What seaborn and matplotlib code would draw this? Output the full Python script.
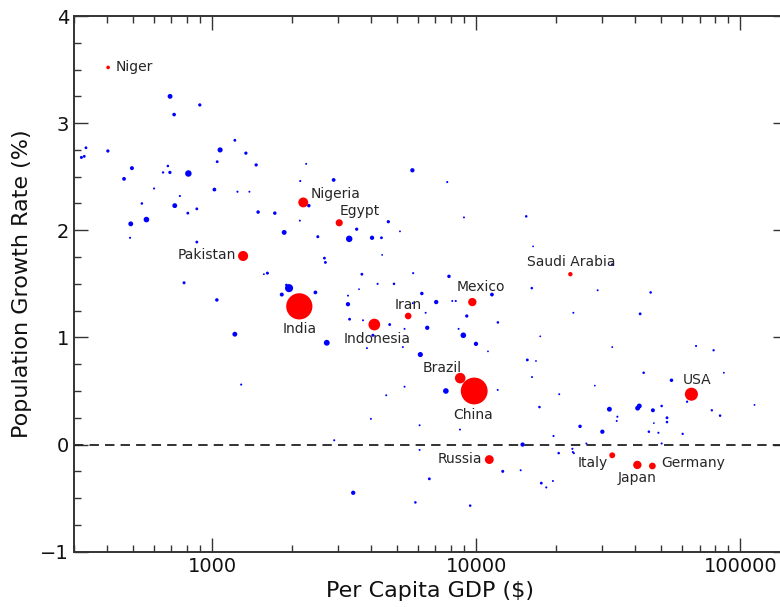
import numpy as np
import pandas as pd
import matplotlib
matplotlib.use("Agg")
import matplotlib.pyplot as plt
import seaborn as sns
from matplotlib.ticker import FixedLocator, FuncFormatter, LogLocator, MultipleLocator, NullFormatter

# ---- labelled countries ----
names = ["Niger", "Nigeria", "Egypt", "Pakistan", "India", "Indonesia", "Iran", "Mexico",
         "Saudi Arabia", "Brazil", "China", "USA", "Russia", "Italy", "Japan", "Germany"]
named_gdp = [404, 2213, 3027, 1310, 2138, 4111, 5522, 9660,
             22700, 8690, 9820, 65200, 11200, 32700, 40700, 46400]
named_growth = [3.52, 2.26, 2.07, 1.76, 1.29, 1.12, 1.20, 1.33,
                1.59, 0.62, 0.50, 0.47, -0.14, -0.10, -0.19, -0.20]
named_pop = [20, 182, 92, 189, 1311, 258, 79, 127,
             31, 208, 1371, 321, 144, 61, 127, 81]

# ---- other countries ----
other_gdp = [693, 898, 718, 1219, 1072, 1342, 333, 328, 320, 403,
             1045, 1468, 497, 680, 652, 692, 813, 464, 603, 1020,
             1247, 1384, 755, 542, 722, 809, 875, 1493, 1727, 2270,
             2155, 2323, 492, 564, 489, 875, 1874, 2148, 1619, 1570,
             783, 1042, 1219, 1288, 2884, 5728, 7762, 4645, 8980, 2512,
             3525, 3303, 4030, 4375, 5140, 2661, 2684, 4400, 3688, 5767,
             7880, 4230, 4880, 3597, 1955, 1910, 1835, 2460, 6220, 3267,
             3267, 7050, 8110, 8360, 11460, 3313, 3725, 4700, 5750, 6430,
             6520, 9200, 12070, 5350, 8570, 4060, 8930, 9970, 2716, 3855,
             5270, 6140, 11070, 7670, 5350, 4560, 12050, 3990, 6100, 8670,
             2898, 6100, 14970, 12590, 14720, 17620, 18400, 6640, 3420, 5880,
             9480, 15600, 16250, 17340, 16220, 15450, 16400, 17460, 16820, 32700,
             28800, 45700, 23300, 41700, 32700, 67900, 79100, 86500, 43000, 28100,
             54800, 20600, 113000, 31900, 41400, 40800, 46600, 50300, 62800, 77900,
             83700, 34200, 34000, 52700, 52700, 47000, 24700, 30000, 45000, 48900,
             60400, 19600, 26100, 50300, 20500, 23100, 23200, 23400, 19500]
other_growth = [3.25, 3.17, 3.08, 2.84, 2.75, 2.72, 2.77, 2.69, 2.68, 2.74,
                2.64, 2.61, 2.58, 2.60, 2.54, 2.54, 2.53, 2.48, 2.39, 2.38,
                2.36, 2.36, 2.32, 2.25, 2.23, 2.16, 2.20, 2.17, 2.16, 2.62,
                2.46, 2.23, 2.06, 2.10, 1.93, 1.89, 1.98, 2.09, 1.60, 1.59,
                1.51, 1.35, 1.03, 0.56, 2.47, 2.56, 2.45, 2.08, 2.12, 1.94,
                2.01, 1.92, 1.93, 1.93, 1.99, 1.74, 1.70, 1.77, 1.59, 1.60,
                1.57, 1.50, 1.50, 1.45, 1.46, 1.49, 1.40, 1.42, 1.41, 1.39,
                1.31, 1.33, 1.34, 1.34, 1.40, 1.17, 1.16, 1.12, 1.32, 1.23,
                1.09, 1.20, 1.14, 1.08, 1.08, 1.02, 1.02, 0.94, 0.95, 0.90,
                0.91, 0.84, 0.87, 0.50, 0.54, 0.46, 0.51, 0.24, 0.18, 0.14,
                0.04, -0.05, 0.00, -0.25, -0.24, -0.36, -0.40, -0.32, -0.45, -0.54,
                -0.57, 0.79, 0.63, 0.35, 1.46, 2.13, 1.85, 1.01, 0.78, 1.68,
                1.44, 1.42, 1.23, 1.22, 0.91, 0.92, 0.88, 0.67, 0.67, 0.55,
                0.60, 0.47, 0.37, 0.33, 0.36, 0.34, 0.32, 0.36, 0.40, 0.32,
                0.27, 0.26, 0.22, 0.25, 0.21, 0.20, 0.17, 0.12, 0.12, 0.11,
                0.10, 0.08, 0.01, 0.01, -0.08, -0.04, -0.07, -0.08, -0.34]
other_pop = [40, 15, 20, 10, 45, 15, 10, 10, 12, 15,
             10, 15, 25, 7, 5, 15, 75, 22, 3, 22,
             3, 2, 3, 7, 40, 10, 10, 18, 18, 2,
             3, 18, 40, 55, 3, 10, 40, 2, 12, 1,
             12, 18, 40, 3, 22, 30, 3, 15, 2, 12,
             15, 75, 30, 10, 1, 10, 10, 0.5, 10, 3,
             18, 3, 7, 0.5, 120, 7, 25, 22, 18, 2,
             30, 30, 2, 3, 22, 10, 2, 10, 2, 2,
             30, 15, 7, 2, 2, 12, 55, 30, 60, 2,
             2, 45, 0.5, 55, 2, 2, 2, 2, 2, 2,
             3, 2, 30, 12, 2, 10, 3, 10, 30, 7,
             7, 10, 2, 7, 7, 7, 0.5, 0.5, 0.5, 7,
             2, 7, 2, 10, 1, 3, 5, 1, 7, 0.5,
             18, 2, 1, 40, 40, 40, 25, 7, 5, 5,
             7, 3, 2, 10, 7, 0.3, 18, 30, 7, 3,
             5, 3, 2, 3, 7, 3, 3, 3, 2]

df_other = pd.DataFrame({"gdp": other_gdp, "growth": other_growth, "pop": other_pop})
df_named = pd.DataFrame({"name": names, "gdp": named_gdp, "growth": named_growth, "pop": named_pop})

sns.set_style("white")
plt.rcParams["font.family"] = ["DejaVu Sans"]

W, H = 780, 607
fig = plt.figure(figsize=(W / 100, H / 100), dpi=100)
ax = fig.add_axes([74 / W, 1 - 551.7 / H, 713 / W, 535.7 / H])
ax.set_xscale("log")

ax.axhline(0, color="#222222", lw=1.3, linestyle=(0, (5.2, 3.4)), zorder=1)

size_kw = dict(size="pop", sizes=(1.5, 381), size_norm=(0, 1400), linewidth=0, legend=False)
sns.scatterplot(data=df_other, x="gdp", y="growth", color="#0000ff", ax=ax, zorder=3, **size_kw)
sns.scatterplot(data=df_named, x="gdp", y="growth", color="#ff0000", ax=ax, zorder=4, **size_kw)

offsets = {
    "Niger": (7, 0, "left"), "Nigeria": (7, 8, "left"), "Egypt": (0, 12, "left"),
    "Pakistan": (-7, 1, "right"), "India": (0, -23, "center"), "Indonesia": (3, -14, "center"),
    "Iran": (0, 11, "center"), "Mexico": (9, 15, "center"), "Saudi Arabia": (1, 12, "center"),
    "Brazil": (2, 10, "right"), "China": (-1, -24, "center"), "USA": (6, 14, "center"),
    "Russia": (-7, 1, "right"), "Italy": (-4, -8, "right"), "Japan": (0, -13, "center"),
    "Germany": (9, 3, "left"),
}
for n, g, r in zip(names, named_gdp, named_growth):
    dx, dy, ha = offsets[n]
    ax.annotate(n, (g, r), xytext=(dx, dy), textcoords="offset pixels",
                ha=ha, va="center", fontsize=10, color="#262626", zorder=5)

ax.set_xlim(300, 150000)
ax.set_ylim(-1, 4)
ax.xaxis.set_major_locator(FixedLocator([1000, 10000, 100000]))
ax.xaxis.set_minor_locator(LogLocator(base=10, subs=np.arange(2, 10)))
ax.xaxis.set_major_formatter(FuncFormatter(lambda v, p: f"{int(round(v))}"))
ax.xaxis.set_minor_formatter(NullFormatter())
ax.yaxis.set_major_locator(MultipleLocator(1))
ax.yaxis.set_minor_locator(MultipleLocator(0.25))

for s in ax.spines.values():
    s.set_visible(True)
    s.set_color("#333333")
    s.set_linewidth(1.4)

ax.tick_params(which="both", direction="in", top=True, right=True, bottom=True, left=True,
               color="#333333", width=1.0)
ax.tick_params(which="major", length=10, labelsize=14, labelcolor="#111111")
ax.tick_params(which="minor", length=5)

ax.set_xlabel("Per Capita GDP ($)", fontsize=16, color="#111111")
ax.set_ylabel("Population Growth Rate (%)", fontsize=16, color="#111111", labelpad=6)

fig.savefig("out.png", dpi=100)
